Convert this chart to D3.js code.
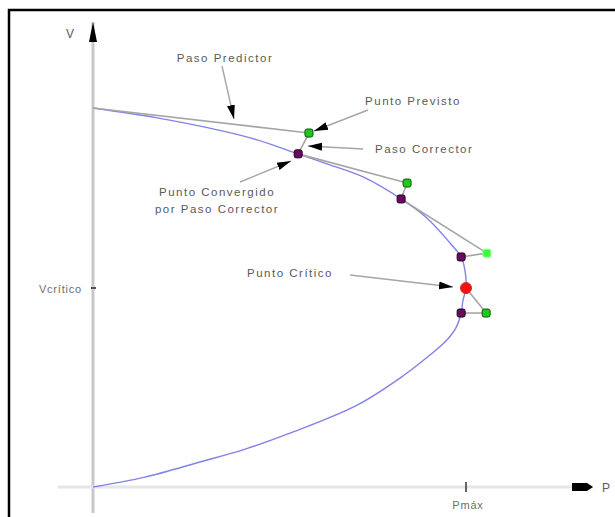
<!DOCTYPE html>
<html>
<head>
<meta charset="utf-8">
<script src="https://cdn.jsdelivr.net/npm/d3@7"></script>
<style>
  html, body { margin: 0; padding: 0; background: #fff; }
  svg { display: block; }
  text { font-family: "Liberation Sans", Arial, sans-serif; fill: #5a5a5a; }
</style>
</head>
<body>
<svg id="chart" width="615" height="517"></svg>
<script>
// Curva P-V (curva de la nariz), en unidades relativas: P/Pmax y V/V0
const curveP = [0, 0.172, 0.349, 0.440, 0.550, 0.635, 0.724, 0.826, 0.895, 0.957, 0.987, 0.997, 1.000,
                0.992, 0.987, 0.973, 0.944, 0.903, 0.831, 0.708, 0.528, 0.408, 0.287, 0.139, 0];
const curveV = [1.000, 0.974, 0.939, 0.916, 0.879, 0.850, 0.818, 0.760, 0.710, 0.644, 0.607, 0.573, 0.525,
                0.493, 0.459, 0.420, 0.383, 0.348, 0.293, 0.216, 0.142, 0.100, 0.066, 0.026, 0];

// Puntos previstos (paso predictor)
const predictedP = [0.579, 0.842, 1.056, 1.054];
const predictedV = [0.934, 0.802, 0.617, 0.459];
// Puntos convergidos (paso corrector)
const correctedP = [0.550, 0.826, 0.987, 0.987];
const correctedV = [0.879, 0.760, 0.607, 0.459];
// Punto de partida de cada paso predictor
const startP = [0, 0.550, 0.826, 1.000];
const startV = [1.000, 0.879, 0.760, 0.525];
// Punto crítico (nariz de la curva)
const criticalP = [1.000];
const criticalV = [0.525];

const axisLabels = ["V", "P"];
const tickLabels = ["Vcrítico", "Pmáx"];
const annotationTexts = ["Paso Predictor", "Punto Previsto", "Paso Corrector",
                         ["Punto Convergido", "por Paso Corrector"], "Punto Crítico"];

const svg = d3.select("#chart");

const x = d3.scaleLinear().domain([0, 1]).range([93, 466]);
const y = d3.scaleLinear().domain([0, 1]).range([487, 108]);

// Marco
svg.append("rect")
  .attr("x", 9).attr("y", 10).attr("width", 640).attr("height", 540)
  .attr("fill", "none").attr("stroke", "#000").attr("stroke-width", 2.5);

// Flechas
const defs = svg.append("defs");
defs.append("marker")
  .attr("id", "head")
  .attr("markerUnits", "userSpaceOnUse")
  .attr("viewBox", "0 -5 14 10")
  .attr("refX", 14).attr("refY", 0)
  .attr("markerWidth", 14).attr("markerHeight", 10)
  .attr("orient", "auto")
  .append("path").attr("d", "M0,-4L14,0L0,4Z").attr("fill", "#000");

// Ejes
const vMax = y.invert(22);
const pMax = x.invert(593);
svg.append("line")
  .attr("x1", x(0)).attr("y1", 513).attr("x2", x(0)).attr("y2", y(vMax))
  .attr("stroke", "#c8c8c8").attr("stroke-width", 3);
svg.append("path")
  .attr("d", `M${x(0)},${y(vMax)}L${x(0) - 4},${y(vMax) + 20}L${x(0) + 4},${y(vMax) + 20}Z`)
  .attr("fill", "#000");
svg.append("line")
  .attr("x1", 58).attr("y1", y(0)).attr("x2", x(pMax)).attr("y2", y(0))
  .attr("stroke", "#e6e6e6").attr("stroke-width", 3);
svg.append("path")
  .attr("d", `M${x(pMax) - 21},${y(0) - 4}L${x(pMax) - 6},${y(0) - 4}L${x(pMax)},${y(0)}L${x(pMax) - 6},${y(0) + 4}L${x(pMax) - 21},${y(0) + 4}Z`)
  .attr("fill", "#000");

svg.append("text").attr("x", 66).attr("y", 38).attr("font-size", 12).text(axisLabels[0]);
svg.append("text").attr("x", 602).attr("y", 492).attr("font-size", 12).text(axisLabels[1]);

// Marcas de Vcrítico y Pmáx
svg.append("line")
  .attr("x1", x(0) - 2).attr("x2", x(0) + 3)
  .attr("y1", y(criticalV[0])).attr("y2", y(criticalV[0]))
  .attr("stroke", "#555").attr("stroke-width", 2);
svg.append("text")
  .attr("x", 82).attr("y", y(criticalV[0]) + 5)
  .attr("text-anchor", "end").attr("font-size", 11).attr("letter-spacing", 0.8)
  .style("fill", "#6e6e6e")
  .text(tickLabels[0]);
svg.append("line")
  .attr("x1", x(criticalP[0])).attr("x2", x(criticalP[0]))
  .attr("y1", y(0) - 5).attr("y2", y(0) + 5)
  .attr("stroke", "#333").attr("stroke-width", 1.5);
svg.append("text")
  .attr("x", x(criticalP[0]) + 2).attr("y", 509)
  .attr("text-anchor", "middle").attr("font-size", 11).attr("letter-spacing", 0.8)
  .style("fill", "#6e6e6e")
  .text(tickLabels[1]);

// Curva P-V
const curvePts = curveP.map((p, i) => [p, curveV[i]]);
svg.append("path")
  .datum(curvePts)
  .attr("d", d3.line().x(d => x(d[0])).y(d => y(d[1])).curve(d3.curveCatmullRom.alpha(0.5)))
  .attr("fill", "none").attr("stroke", "#8282e8").attr("stroke-width", 1.4);

// Pasos predictor y corrector
const gray = "#a6a6a6";
predictedP.forEach((p, i) => {
  svg.append("line")
    .attr("x1", x(startP[i])).attr("y1", y(startV[i]))
    .attr("x2", x(p)).attr("y2", y(predictedV[i]))
    .attr("stroke", gray).attr("stroke-width", 1.6);
  svg.append("line")
    .attr("x1", x(p)).attr("y1", y(predictedV[i]))
    .attr("x2", x(correctedP[i])).attr("y2", y(correctedV[i]))
    .attr("stroke", gray).attr("stroke-width", 1.6);
});

// Puntos
svg.selectAll(".pred").data(predictedP).join("rect")
  .attr("x", d => x(d) - 4).attr("y", (d, i) => y(predictedV[i]) - 4)
  .attr("width", 8).attr("height", 8).attr("rx", 2)
  .attr("fill", (d, i) => i === 2 ? "#3cff3c" : "#1ec81e")
  .attr("stroke", (d, i) => i === 2 ? "#8cff8c" : "#0a5a0a").attr("stroke-width", 1);

svg.selectAll(".corr").data(correctedP).join("rect")
  .attr("x", d => x(d) - 4).attr("y", (d, i) => y(correctedV[i]) - 4)
  .attr("width", 8).attr("height", 8).attr("rx", 2)
  .attr("fill", "#6a0a5e").attr("stroke", "#200020").attr("stroke-width", 1);

svg.selectAll(".crit").data(criticalP).join("circle")
  .attr("cx", d => x(d)).attr("cy", (d, i) => y(criticalV[i]))
  .attr("r", 5.5)
  .attr("fill", "#ff1010").attr("stroke", "#c03030").attr("stroke-width", 1);

// Anotaciones con flecha
const leaders = [
  { from: [222, 66], to: [234, 119] },
  { from: [368, 110], to: [314, 131] },
  { from: [363, 149], to: [308, 146] },
  { from: [240, 182], to: [291, 161] },
  { from: [350, 275], to: [453, 287] }
];
leaders.forEach(l => {
  svg.append("line")
    .attr("x1", l.from[0]).attr("y1", l.from[1])
    .attr("x2", l.to[0]).attr("y2", l.to[1])
    .attr("stroke", gray).attr("stroke-width", 1.4)
    .attr("marker-end", "url(#head)");
});

const labelStyle = sel => sel.attr("font-size", 11.5).attr("letter-spacing", 1.5);
labelStyle(svg.append("text").attr("x", 225).attr("y", 62).attr("text-anchor", "middle").text(annotationTexts[0]));
labelStyle(svg.append("text").attr("x", 413).attr("y", 105).attr("text-anchor", "middle").text(annotationTexts[1]));
labelStyle(svg.append("text").attr("x", 375).attr("y", 153).text(annotationTexts[2]));
const conv = svg.append("text").attr("text-anchor", "middle");
labelStyle(conv);
conv.selectAll("tspan").data(annotationTexts[3]).join("tspan")
  .attr("x", 217).attr("y", (d, i) => 196 + i * 17).text(d => d);
labelStyle(svg.append("text").attr("x", 290).attr("y", 277).attr("text-anchor", "middle").text(annotationTexts[4]));
</script>
</body>
</html>
